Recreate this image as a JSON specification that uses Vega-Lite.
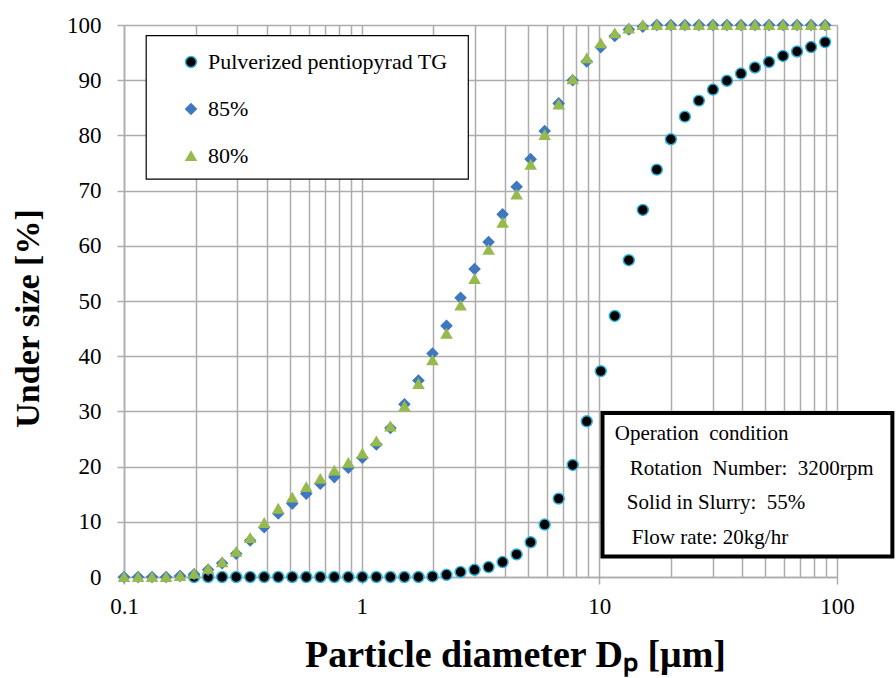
{
  "$schema": "https://vega.github.io/schema/vega-lite/v6.json",
  "width": 713,
  "height": 552,
  "autosize": "none",
  "padding": {"left": 124, "top": 25, "right": 59, "bottom": 101},
  "background": "white",
  "config": {"view": {"stroke": null}, "font": "Liberation Serif, Times New Roman, serif"},
  "datasets": {
    "pts": [
      {"series": "Pulverized pentiopyrad TG", "d": 0.1972, "u": 0},
      {"series": "Pulverized pentiopyrad TG", "d": 0.2259, "u": 0},
      {"series": "Pulverized pentiopyrad TG", "d": 0.2588, "u": 0},
      {"series": "Pulverized pentiopyrad TG", "d": 0.2965, "u": 0},
      {"series": "Pulverized pentiopyrad TG", "d": 0.3396, "u": 0},
      {"series": "Pulverized pentiopyrad TG", "d": 0.389, "u": 0},
      {"series": "Pulverized pentiopyrad TG", "d": 0.4457, "u": 0},
      {"series": "Pulverized pentiopyrad TG", "d": 0.5105, "u": 0},
      {"series": "Pulverized pentiopyrad TG", "d": 0.5848, "u": 0},
      {"series": "Pulverized pentiopyrad TG", "d": 0.6699, "u": 0},
      {"series": "Pulverized pentiopyrad TG", "d": 0.7674, "u": 0},
      {"series": "Pulverized pentiopyrad TG", "d": 0.879, "u": 0},
      {"series": "Pulverized pentiopyrad TG", "d": 1.0069, "u": 0},
      {"series": "Pulverized pentiopyrad TG", "d": 1.1535, "u": 0},
      {"series": "Pulverized pentiopyrad TG", "d": 1.3213, "u": 0},
      {"series": "Pulverized pentiopyrad TG", "d": 1.5136, "u": 0},
      {"series": "Pulverized pentiopyrad TG", "d": 1.7338, "u": 0},
      {"series": "Pulverized pentiopyrad TG", "d": 1.9861, "u": 0.1},
      {"series": "Pulverized pentiopyrad TG", "d": 2.2751, "u": 0.4},
      {"series": "Pulverized pentiopyrad TG", "d": 2.6062, "u": 0.9},
      {"series": "Pulverized pentiopyrad TG", "d": 2.9854, "u": 1.3},
      {"series": "Pulverized pentiopyrad TG", "d": 3.4198, "u": 1.8},
      {"series": "Pulverized pentiopyrad TG", "d": 3.9174, "u": 2.7},
      {"series": "Pulverized pentiopyrad TG", "d": 4.4875, "u": 4.1},
      {"series": "Pulverized pentiopyrad TG", "d": 5.1404, "u": 6.3},
      {"series": "Pulverized pentiopyrad TG", "d": 5.8884, "u": 9.5},
      {"series": "Pulverized pentiopyrad TG", "d": 6.7453, "u": 14.2},
      {"series": "Pulverized pentiopyrad TG", "d": 7.7268, "u": 20.3},
      {"series": "Pulverized pentiopyrad TG", "d": 8.8512, "u": 28.2},
      {"series": "Pulverized pentiopyrad TG", "d": 10.139, "u": 37.3},
      {"series": "Pulverized pentiopyrad TG", "d": 11.614, "u": 47.3},
      {"series": "Pulverized pentiopyrad TG", "d": 13.305, "u": 57.4},
      {"series": "Pulverized pentiopyrad TG", "d": 15.241, "u": 66.5},
      {"series": "Pulverized pentiopyrad TG", "d": 17.458, "u": 73.8},
      {"series": "Pulverized pentiopyrad TG", "d": 19.999, "u": 79.3},
      {"series": "Pulverized pentiopyrad TG", "d": 22.909, "u": 83.4},
      {"series": "Pulverized pentiopyrad TG", "d": 26.242, "u": 86.3},
      {"series": "Pulverized pentiopyrad TG", "d": 30.061, "u": 88.3},
      {"series": "Pulverized pentiopyrad TG", "d": 34.435, "u": 89.9},
      {"series": "Pulverized pentiopyrad TG", "d": 39.446, "u": 91.2},
      {"series": "Pulverized pentiopyrad TG", "d": 45.186, "u": 92.3},
      {"series": "Pulverized pentiopyrad TG", "d": 51.761, "u": 93.3},
      {"series": "Pulverized pentiopyrad TG", "d": 59.293, "u": 94.4},
      {"series": "Pulverized pentiopyrad TG", "d": 67.92, "u": 95.2},
      {"series": "Pulverized pentiopyrad TG", "d": 77.804, "u": 96.0},
      {"series": "Pulverized pentiopyrad TG", "d": 89.125, "u": 96.9},

      {"series": "85%", "d": 0.1, "u": 0},
      {"series": "85%", "d": 0.1146, "u": 0},
      {"series": "85%", "d": 0.1312, "u": 0},
      {"series": "85%", "d": 0.1503, "u": 0},
      {"series": "85%", "d": 0.1722, "u": 0.2},
      {"series": "85%", "d": 0.1972, "u": 0.5},
      {"series": "85%", "d": 0.2259, "u": 1.3},
      {"series": "85%", "d": 0.2588, "u": 2.5},
      {"series": "85%", "d": 0.2965, "u": 4.2},
      {"series": "85%", "d": 0.3396, "u": 6.6},
      {"series": "85%", "d": 0.389, "u": 9.0},
      {"series": "85%", "d": 0.4457, "u": 11.5},
      {"series": "85%", "d": 0.5105, "u": 13.3},
      {"series": "85%", "d": 0.5848, "u": 15.1},
      {"series": "85%", "d": 0.6699, "u": 16.9},
      {"series": "85%", "d": 0.7674, "u": 18.1},
      {"series": "85%", "d": 0.879, "u": 19.8},
      {"series": "85%", "d": 1.0069, "u": 21.6},
      {"series": "85%", "d": 1.1535, "u": 24.0},
      {"series": "85%", "d": 1.3213, "u": 27.0},
      {"series": "85%", "d": 1.5136, "u": 31.3},
      {"series": "85%", "d": 1.7338, "u": 35.6},
      {"series": "85%", "d": 1.9861, "u": 40.5},
      {"series": "85%", "d": 2.2751, "u": 45.5},
      {"series": "85%", "d": 2.6062, "u": 50.6},
      {"series": "85%", "d": 2.9854, "u": 55.8},
      {"series": "85%", "d": 3.4198, "u": 60.7},
      {"series": "85%", "d": 3.9174, "u": 65.7},
      {"series": "85%", "d": 4.4875, "u": 70.7},
      {"series": "85%", "d": 5.1404, "u": 75.7},
      {"series": "85%", "d": 5.8884, "u": 80.8},
      {"series": "85%", "d": 6.7453, "u": 85.8},
      {"series": "85%", "d": 7.7268, "u": 90.0},
      {"series": "85%", "d": 8.8512, "u": 93.4},
      {"series": "85%", "d": 10.139, "u": 96.0},
      {"series": "85%", "d": 11.614, "u": 98.0},
      {"series": "85%", "d": 13.305, "u": 99.2},
      {"series": "85%", "d": 15.241, "u": 99.7},
      {"series": "85%", "d": 17.458, "u": 100},
      {"series": "85%", "d": 19.999, "u": 100},
      {"series": "85%", "d": 22.909, "u": 100},
      {"series": "85%", "d": 26.242, "u": 100},
      {"series": "85%", "d": 30.061, "u": 100},
      {"series": "85%", "d": 34.435, "u": 100},
      {"series": "85%", "d": 39.446, "u": 100},
      {"series": "85%", "d": 45.186, "u": 100},
      {"series": "85%", "d": 51.761, "u": 100},
      {"series": "85%", "d": 59.293, "u": 100},
      {"series": "85%", "d": 67.92, "u": 100},
      {"series": "85%", "d": 77.804, "u": 100},
      {"series": "85%", "d": 89.125, "u": 100},

      {"series": "80%", "d": 0.1, "u": 0},
      {"series": "80%", "d": 0.1146, "u": 0},
      {"series": "80%", "d": 0.1312, "u": 0},
      {"series": "80%", "d": 0.1503, "u": 0},
      {"series": "80%", "d": 0.1722, "u": 0.2},
      {"series": "80%", "d": 0.1972, "u": 0.6},
      {"series": "80%", "d": 0.2259, "u": 1.5},
      {"series": "80%", "d": 0.2588, "u": 2.7},
      {"series": "80%", "d": 0.2965, "u": 4.6},
      {"series": "80%", "d": 0.3396, "u": 7.1},
      {"series": "80%", "d": 0.389, "u": 9.8},
      {"series": "80%", "d": 0.4457, "u": 12.4},
      {"series": "80%", "d": 0.5105, "u": 14.4},
      {"series": "80%", "d": 0.5848, "u": 16.3},
      {"series": "80%", "d": 0.6699, "u": 17.8},
      {"series": "80%", "d": 0.7674, "u": 19.3},
      {"series": "80%", "d": 0.879, "u": 20.7},
      {"series": "80%", "d": 1.0069, "u": 22.4},
      {"series": "80%", "d": 1.1535, "u": 24.6},
      {"series": "80%", "d": 1.3213, "u": 27.3},
      {"series": "80%", "d": 1.5136, "u": 30.9},
      {"series": "80%", "d": 1.7338, "u": 35.0},
      {"series": "80%", "d": 1.9861, "u": 39.3},
      {"series": "80%", "d": 2.2751, "u": 44.1},
      {"series": "80%", "d": 2.6062, "u": 49.2},
      {"series": "80%", "d": 2.9854, "u": 54.0},
      {"series": "80%", "d": 3.4198, "u": 59.3},
      {"series": "80%", "d": 3.9174, "u": 64.2},
      {"series": "80%", "d": 4.4875, "u": 69.3},
      {"series": "80%", "d": 5.1404, "u": 74.7},
      {"series": "80%", "d": 5.8884, "u": 80.1},
      {"series": "80%", "d": 6.7453, "u": 85.6},
      {"series": "80%", "d": 7.7268, "u": 90.2},
      {"series": "80%", "d": 8.8512, "u": 94.0},
      {"series": "80%", "d": 10.139, "u": 96.7},
      {"series": "80%", "d": 11.614, "u": 98.5},
      {"series": "80%", "d": 13.305, "u": 99.4},
      {"series": "80%", "d": 15.241, "u": 100},
      {"series": "80%", "d": 17.458, "u": 100},
      {"series": "80%", "d": 19.999, "u": 100},
      {"series": "80%", "d": 22.909, "u": 100},
      {"series": "80%", "d": 26.242, "u": 100},
      {"series": "80%", "d": 30.061, "u": 100},
      {"series": "80%", "d": 34.435, "u": 100},
      {"series": "80%", "d": 39.446, "u": 100},
      {"series": "80%", "d": 45.186, "u": 100},
      {"series": "80%", "d": 51.761, "u": 100},
      {"series": "80%", "d": 59.293, "u": 100},
      {"series": "80%", "d": 67.92, "u": 100},
      {"series": "80%", "d": 77.804, "u": 100},
      {"series": "80%", "d": 89.125, "u": 100}
    ],
    "one": [{}]
  },
  "layer": [
    {
      "data": {"name": "pts"},
      "mark": {"type": "point", "filled": true, "strokeWidth": 1.5, "opacity": 1},
      "encoding": {
        "x": {
          "field": "d", "type": "quantitative",
          "scale": {"type": "log", "domain": [0.1, 100], "nice": false},
          "axis": {
            "values": [0.1,0.2,0.3,0.4,0.5,0.6,0.7,0.8,0.9,1,2,3,4,5,6,7,8,9,10,20,30,40,50,60,70,80,90,100],
            "format": "~g",
            "labelExpr": "(datum.value == 0.1 || datum.value == 1 || datum.value == 10 || datum.value == 100) ? datum.label : ''",
            "labelOverlap": false, "labelFlush": false,
            "tickOpacity": {"condition": {"test": "datum.value == 0.1 || datum.value == 1 || datum.value == 10 || datum.value == 100", "value": 1}, "value": 0},
            "grid": true, "gridColor": "#ADADAD", "gridWidth": 1.5,
            "domainColor": "#ADADAD", "domainWidth": 1.5,
            "tickColor": "#ADADAD", "tickSize": 7, "tickWidth": 1.5,
            "labelFont": "Liberation Serif, Times New Roman, serif", "labelFontSize": 23, "labelColor": "#000000", "labelPadding": 11,
            "title": "Particle diameter Dₚ [μm]",
            "titleFont": "Liberation Serif, Times New Roman, serif", "titleFontSize": 38, "titleFontWeight": "bold", "titleColor": "#000000",
            "titleX": 391, "titleY": 78, "titleBaseline": "middle", "titleAlign": "center"
          }
        },
        "y": {
          "field": "u", "type": "quantitative",
          "scale": {"domain": [0, 100], "nice": false},
          "axis": {
            "values": [0,10,20,30,40,50,60,70,80,90,100],
            "grid": true, "gridColor": "#ADADAD", "gridWidth": 1.5,
            "domainColor": "#ADADAD", "domainWidth": 1.5,
            "tickColor": "#ADADAD", "tickSize": 7, "tickWidth": 1.5,
            "labelFont": "Liberation Serif, Times New Roman, serif", "labelFontSize": 23, "labelColor": "#000000", "labelPadding": 16,
            "title": "Under size [%]",
            "titleFont": "Liberation Serif, Times New Roman, serif", "titleFontSize": 34, "titleFontWeight": "bold", "titleColor": "#000000",
            "titleX": -96, "titleY": 293, "titleAngle": 270, "titleBaseline": "middle", "titleAlign": "center"
          }
        },
        "fill": {
          "field": "series", "type": "nominal",
          "scale": {"domain": ["Pulverized pentiopyrad TG", "85%", "80%"], "range": ["#000000", "#3F78C0", "#97BA4E"]},
          "legend": {
            "orient": "none", "legendX": 56, "legendY": 26, "title": null, "padding": 0,
            "labelFont": "Liberation Serif, Times New Roman, serif", "labelFontSize": 22, "labelColor": "#000000", "labelLimit": 400,
            "rowPadding": 25, "symbolStrokeWidth": 1.5, "labelOffset": 6
          }
        },
        "stroke": {
          "field": "series", "type": "nominal",
          "scale": {"domain": ["Pulverized pentiopyrad TG", "85%", "80%"], "range": ["#2FB4DC", "#3F78C0", "#97BA4E"]}
        },
        "shape": {
          "field": "series", "type": "nominal",
          "scale": {"domain": ["Pulverized pentiopyrad TG", "85%", "80%"], "range": ["circle", "diamond", "triangle-up"]}
        },
        "size": {
          "field": "series", "type": "nominal",
          "scale": {"domain": ["Pulverized pentiopyrad TG", "85%", "80%"], "range": [120, 100, 135]}
        }
      }
    },
    {
      "data": {"name": "one"},
      "mark": {"type": "rect", "fill": "#FFFFFF", "stroke": "#000000", "strokeWidth": 1.2},
      "encoding": {
        "x": {"datum": 0.124, "type": "quantitative"},
        "x2": {"datum": 2.81},
        "y": {"datum": 98.06, "type": "quantitative"},
        "y2": {"datum": 72.08}
      }
    },
    {
      "data": {"name": "one"},
      "mark": {"type": "rect", "fill": "#FFFFFF", "stroke": "#000000", "strokeWidth": 4},
      "encoding": {
        "x": {"datum": 10.31, "type": "quantitative"},
        "x2": {"datum": 171},
        "y": {"datum": 29.7, "type": "quantitative"},
        "y2": {"datum": 3.72}
      }
    },
    {
      "data": {"name": "one"},
      "mark": {"type": "text", "text": "Operation\u00a0 condition", "font": "Liberation Serif, Times New Roman, serif", "fontSize": 21, "align": "left", "baseline": "alphabetic", "color": "#000000"},
      "encoding": {"x": {"datum": 11.61, "type": "quantitative"}, "y": {"datum": 24.75, "type": "quantitative"}}
    },
    {
      "data": {"name": "one"},
      "mark": {"type": "text", "text": "Rotation\u00a0 Number:\u00a0 3200rpm", "font": "Liberation Serif, Times New Roman, serif", "fontSize": 21, "align": "left", "baseline": "alphabetic", "color": "#000000"},
      "encoding": {"x": {"datum": 13.43, "type": "quantitative"}, "y": {"datum": 18.4, "type": "quantitative"}}
    },
    {
      "data": {"name": "one"},
      "mark": {"type": "text", "text": "Solid in Slurry:\u00a0 55%", "font": "Liberation Serif, Times New Roman, serif", "fontSize": 21, "align": "left", "baseline": "alphabetic", "color": "#000000"},
      "encoding": {"x": {"datum": 13.05, "type": "quantitative"}, "y": {"datum": 12.24, "type": "quantitative"}}
    },
    {
      "data": {"name": "one"},
      "mark": {"type": "text", "text": "Flow rate: 20kg/hr", "font": "Liberation Serif, Times New Roman, serif", "fontSize": 21, "align": "left", "baseline": "alphabetic", "color": "#000000"},
      "encoding": {"x": {"datum": 13.7, "type": "quantitative"}, "y": {"datum": 5.9, "type": "quantitative"}}
    }
  ]
}
